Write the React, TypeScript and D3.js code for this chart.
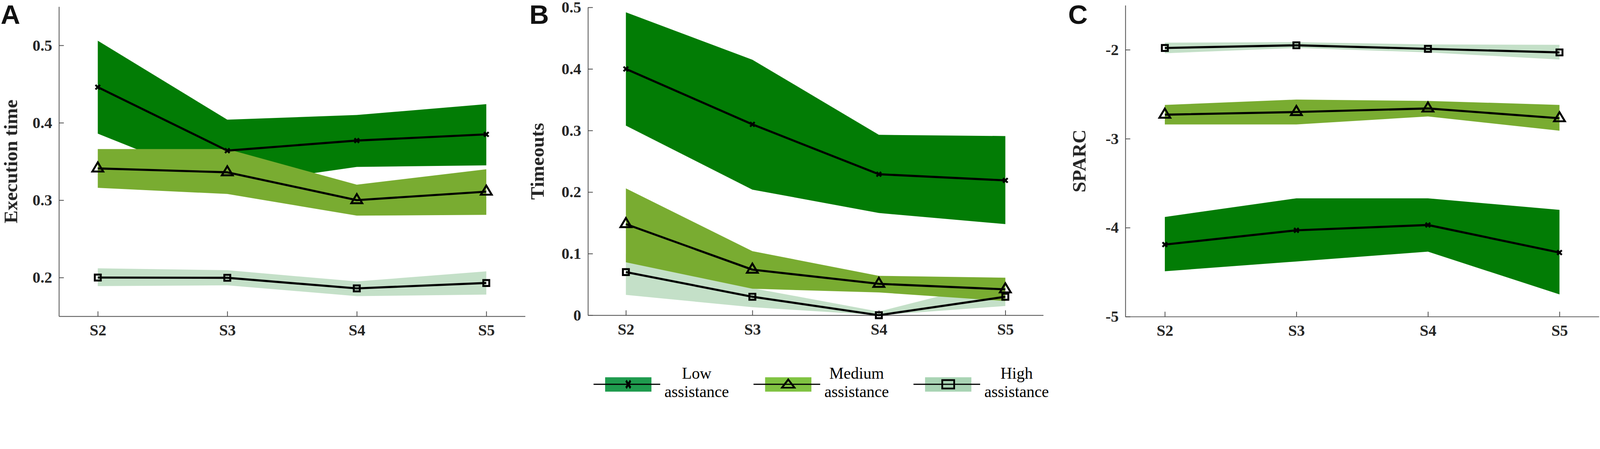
import { useEffect, useRef } from 'react';
import * as d3 from 'd3';

// sessions on the x axis
const sessions = ['S2', 'S3', 'S4', 'S5'];

// A: execution time
const execLowMean = [0.446, 0.364, 0.377, 0.385];
const execLowUpper = [0.506, 0.404, 0.41, 0.424];
const execLowLower = [0.386, 0.319, 0.343, 0.345];
const execMedMean = [0.341, 0.336, 0.3, 0.311];
const execMedUpper = [0.366, 0.366, 0.32, 0.34];
const execMedLower = [0.316, 0.308, 0.28, 0.281];
const execHighMean = [0.2, 0.1997, 0.186, 0.193];
const execHighUpper = [0.212, 0.2095, 0.195, 0.208];
const execHighLower = [0.189, 0.19, 0.176, 0.178];
const execTicks = [0.2, 0.3, 0.4, 0.5];

// B: timeouts
const toLowMean = [0.4, 0.31, 0.229, 0.219];
const toLowUpper = [0.492, 0.415, 0.293, 0.291];
const toLowLower = [0.308, 0.204, 0.166, 0.148];
const toMedMean = [0.148, 0.074, 0.051, 0.042];
const toMedUpper = [0.206, 0.104, 0.064, 0.061];
const toMedLower = [0.086, 0.043, 0.037, 0.023];
const toHighMean = [0.07, 0.03, 0, 0.03];
const toHighUpper = [0.1, 0.044, 0.006, 0.058];
const toHighLower = [0.033, 0.013, 0, 0.015];
const toTicks = [0, 0.1, 0.2, 0.3, 0.4, 0.5];

// C: SPARC
const spLowMean = [-4.19, -4.03, -3.97, -4.28];
const spLowUpper = [-3.88, -3.67, -3.67, -3.8];
const spLowLower = [-4.49, -4.38, -4.27, -4.75];
const spMedMean = [-2.73, -2.7, -2.66, -2.77];
const spMedUpper = [-2.62, -2.56, -2.575, -2.62];
const spMedLower = [-2.84, -2.84, -2.75, -2.91];
const spHighMean = [-1.98, -1.95, -1.99, -2.03];
const spHighUpper = [-1.92, -1.915, -1.94, -1.945];
const spHighLower = [-2.04, -1.98, -2.03, -2.11];
const spTicks = [-5, -4, -3, -2];

const legendNames = ['Low', 'Medium', 'High'];
const legendSub = 'assistance';

const bandColor: Record<string, string> = {
  low: '#027c05',
  medium: '#79ac31',
  high: '#c4e0c8',
};
const legendColor: Record<string, string> = {
  low: '#1f9b4e',
  medium: '#80c342',
  high: '#a9d4b4',
};

type Group = { key: 'low' | 'medium' | 'high'; mean: number[]; upper: number[]; lower: number[] };

const SERIF = '"Liberation Serif", "Times New Roman", serif';
const SANS = '"Liberation Sans", Arial, sans-serif';
const W = 4561;
const H = 1150;

function markerPath(key: string) {
  if (key === 'low') {
    const s = 6.5;
    return `M${-s},${-s}L${s},${s}M${-s},${s}L${s},${-s}`;
  }
  if (key === 'medium') {
    const w = 31;
    const h = 26;
    return `M0,${(-2 * h) / 3}L${w / 2},${h / 3}L${-w / 2},${h / 3}Z`;
  }
  const s = 8.5;
  return `M${-s},${-s}H${s}V${s}H${-s}Z`;
}

export default function App() {
  const ref = useRef<SVGSVGElement>(null);

  useEffect(() => {
    document.body.style.margin = '0';
    document.body.style.overflow = 'hidden';

    const svg = d3.select(ref.current);
    svg.selectAll('*').remove();

    const panels = [
      {
        letter: 'A', letterX: 2, label: 'Execution time', labelX: 49,
        x0: 168, x1: 1497, y0: 19, y1: 902, domain: [0.15, 0.55], ticks: execTicks,
        groups: [
          { key: 'low', mean: execLowMean, upper: execLowUpper, lower: execLowLower },
          { key: 'medium', mean: execMedMean, upper: execMedUpper, lower: execMedLower },
          { key: 'high', mean: execHighMean, upper: execHighUpper, lower: execHighLower },
        ] as Group[],
        fmt: (d: number) => d.toFixed(1),
      },
      {
        letter: 'B', letterX: 1509, label: 'Timeouts', labelX: 1550,
        x0: 1676, x1: 2974, y0: 21, y1: 899, domain: [0, 0.5], ticks: toTicks,
        groups: [
          { key: 'low', mean: toLowMean, upper: toLowUpper, lower: toLowLower },
          { key: 'medium', mean: toMedMean, upper: toMedUpper, lower: toMedLower },
          { key: 'high', mean: toHighMean, upper: toHighUpper, lower: toHighLower },
        ] as Group[],
        fmt: (d: number) => (d === 0 ? '0' : d.toFixed(1)),
      },
      {
        letter: 'C', letterX: 3045, label: 'SPARC', labelX: 3095,
        x0: 3208, x1: 4558, y0: 15, y1: 903, domain: [-5, -1.5], ticks: spTicks,
        groups: [
          { key: 'low', mean: spLowMean, upper: spLowUpper, lower: spLowLower },
          { key: 'medium', mean: spMedMean, upper: spMedUpper, lower: spMedLower },
          { key: 'high', mean: spHighMean, upper: spHighUpper, lower: spHighLower },
        ] as Group[],
        fmt: (d: number) => String(d),
      },
    ];

    // medium band sits on top of the others
    const drawOrder = ['low', 'high', 'medium'];

    panels.forEach((p) => {
      const g = svg.append('g');
      const x = d3.scaleLinear().domain([-0.3, sessions.length - 0.7]).range([p.x0, p.x1]);
      const y = d3.scaleLinear().domain(p.domain).range([p.y1, p.y0]);

      // shaded bands
      drawOrder.forEach((k) => {
        const gr = p.groups.find((d) => d.key === k)!;
        const a = d3
          .area<number>()
          .x((_, i) => x(i))
          .y0((_, i) => y(gr.lower[i]))
          .y1((_, i) => y(gr.upper[i]));
        g.append('path')
          .datum(gr.mean)
          .attr('fill', bandColor[k])
          .attr('d', a);
      });

      // axes
      const yAxis = g
        .append('g')
        .attr('transform', `translate(${p.x0},0)`)
        .call(
          d3.axisLeft(y)
            .tickValues(p.ticks)
            .tickSizeInner(-14)
            .tickSizeOuter(0)
            .tickPadding(19)
            .tickFormat((d) => p.fmt(+d))
        );
      const xAxis = g
        .append('g')
        .attr('transform', `translate(0,${p.y1})`)
        .call(
          d3.axisBottom(x)
            .tickValues(sessions.map((_, i) => i))
            .tickSizeInner(-14)
            .tickSizeOuter(0)
            .tickPadding(23)
            .tickFormat((d) => sessions[+d])
        );
      [yAxis, xAxis].forEach((ax) => {
        ax.select('.domain').attr('stroke', '#4a4a4a').attr('stroke-width', 2.2);
        ax.selectAll('.tick line').attr('stroke', '#4a4a4a').attr('stroke-width', 2.2);
        ax.selectAll('.tick text')
          .attr('fill', '#262626')
          .style('font-family', SERIF)
          .style('font-weight', 'bold')
          .style('font-size', '45px');
      });

      // mean lines and markers
      ['low', 'medium', 'high'].forEach((k) => {
        const gr = p.groups.find((d) => d.key === k)!;
        g.append('path')
          .datum(gr.mean)
          .attr('fill', 'none')
          .attr('stroke', '#000')
          .attr('stroke-width', 6)
          .attr('stroke-linejoin', 'round')
          .attr('d', d3.line<number>().x((_, i) => x(i)).y((d) => y(d)));
        g.selectAll(null)
          .data(gr.mean)
          .enter()
          .append('path')
          .attr('transform', (d, i) => `translate(${x(i)},${y(d)})`)
          .attr('d', markerPath(k))
          .attr('fill', 'none')
          .attr('stroke', '#000')
          .attr('stroke-width', 5.5);
      });

      // panel letter
      svg.append('text')
        .attr('x', p.letterX)
        .attr('y', 68)
        .style('font-family', SANS)
        .style('font-weight', 'bold')
        .style('font-size', '77px')
        .attr('fill', '#111')
        .text(p.letter);

      // y label
      const cy = (p.y0 + p.y1) / 2;
      svg.append('text')
        .attr('transform', `translate(${p.labelX},${cy}) rotate(-90)`)
        .attr('text-anchor', 'middle')
        .style('font-family', SERIF)
        .style('font-weight', 'bold')
        .style('font-size', '55px')
        .attr('fill', '#262626')
        .text(p.label);
    });

    // legend
    const legX = d3.scaleLinear().domain([0, 1]).range([1692, 2148]);
    const leg = svg.append('g');
    ['low', 'medium', 'high'].forEach((k, i) => {
      const lx = legX(i);
      const item = leg.append('g').attr('transform', `translate(${lx},1096)`);
      item.append('rect')
        .attr('x', 33).attr('y', -20).attr('width', 132).attr('height', 41)
        .attr('fill', legendColor[k]);
      item.append('line')
        .attr('x1', 0).attr('x2', 190).attr('y1', 0).attr('y2', 0)
        .attr('stroke', '#000').attr('stroke-width', 3.5);
      if (k === 'high') {
        item.append('rect')
          .attr('x', 82).attr('y', -12).attr('width', 34).attr('height', 24)
          .attr('fill', 'none').attr('stroke', '#000').attr('stroke-width', 5);
      } else {
        item.append('path')
          .attr('transform', `translate(99,${k === 'medium' ? 2 : 0}) scale(${k === 'medium' ? '1.15,0.9' : '1,1.6'})`)
          .attr('d', markerPath(k))
          .attr('fill', 'none')
          .attr('stroke', '#000')
          .attr('stroke-width', 5);
      }
      const tx = lx + 294;
      [legendNames[i], legendSub].forEach((t, j) => {
        leg.append('text')
          .attr('x', tx)
          .attr('y', 1080 + j * 52)
          .attr('text-anchor', 'middle')
          .style('font-family', SERIF)
          .style('font-size', '46px')
          .attr('fill', '#000')
          .text(t);
      });
    });
  }, []);

  return (
    <svg
      ref={ref}
      viewBox={`0 0 ${W} ${H}`}
      preserveAspectRatio="xMinYMin meet"
      style={{ position: 'absolute', left: 0, top: 0, width: '100vw', height: '100vh', background: '#fff', display: 'block' }}
    />
  );
}
